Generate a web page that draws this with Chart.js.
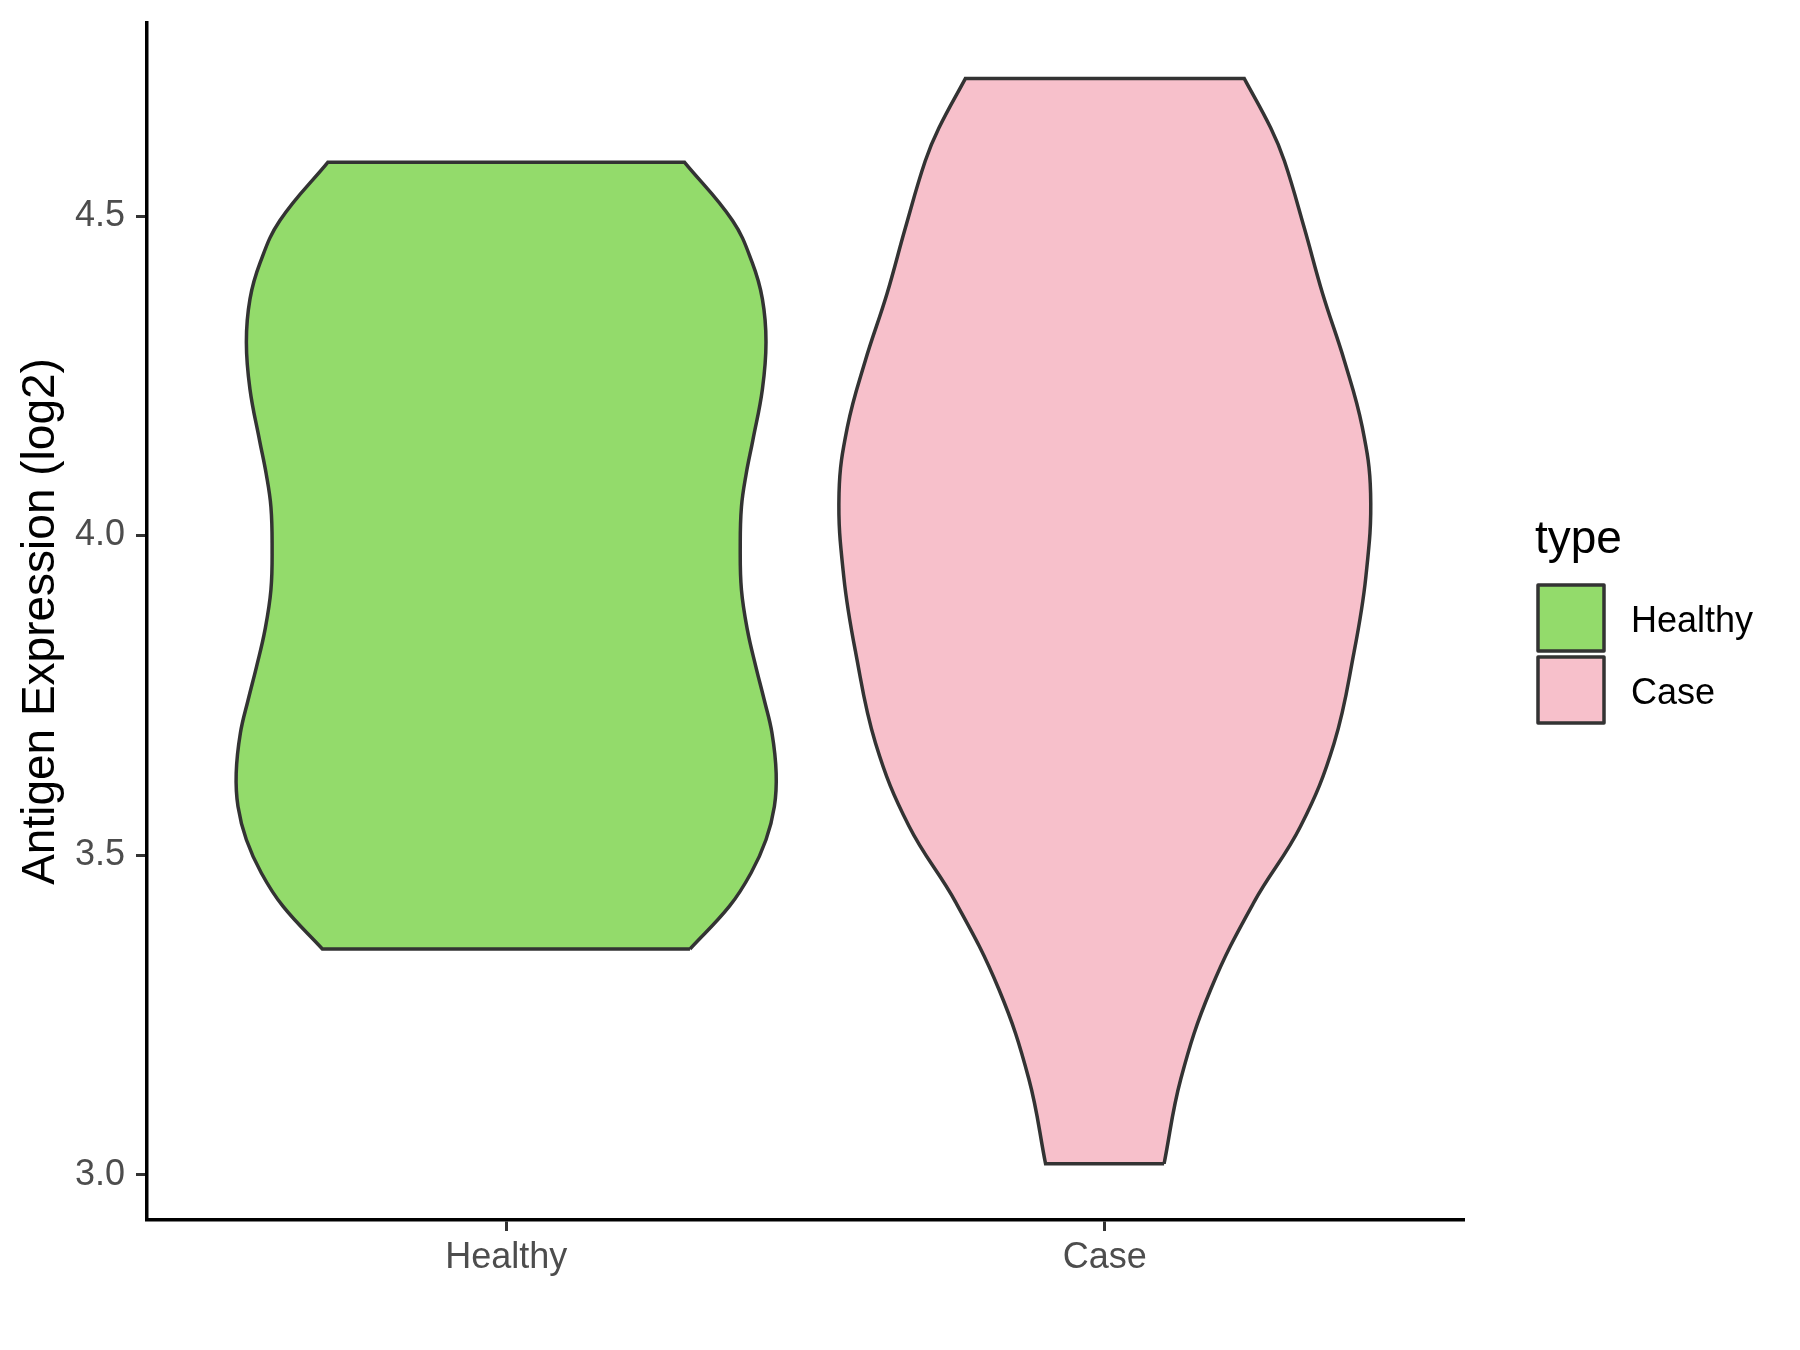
<!DOCTYPE html>
<html>
<head>
<meta charset="utf-8">
<title>Antigen Expression (log2)</title>
<script src="https://cdn.jsdelivr.net/npm/chart.js@4.4.1/dist/chart.umd.min.js"></script>
<style>
  html, body { margin: 0; padding: 0; background: #ffffff; }
  canvas { display: block; }
</style>
</head>
<body>
<canvas id="violin" width="1800" height="1350"></canvas>
<script>
var categories = ['Healthy', 'Case'];
var fills = ['#93DB6B', '#F7C0CB'];
var yTicks = [3.0, 3.5, 4.0, 4.5];

// expression level (log2) and half-width of the violin at that level, in category units
var healthyLevels = [3.353, 3.420, 3.472, 3.524, 3.576, 3.628, 3.691, 3.743, 3.795, 3.852, 3.915, 3.982, 4.045, 4.097, 4.149, 4.229, 4.303, 4.370, 4.427, 4.493, 4.584];
var healthyWidths = [0.307, 0.373, 0.409, 0.434, 0.448, 0.451, 0.444, 0.431, 0.417, 0.403, 0.393, 0.391, 0.393, 0.401, 0.412, 0.428, 0.434, 0.428, 0.411, 0.378, 0.298];
var caseLevels = [3.017, 3.150, 3.290, 3.426, 3.545, 3.675, 3.816, 3.935, 4.066, 4.170, 4.274, 4.378, 4.482, 4.586, 4.638, 4.715];
var caseWidths = [0.099, 0.127, 0.177, 0.249, 0.327, 0.383, 0.416, 0.436, 0.444, 0.430, 0.400, 0.364, 0.333, 0.300, 0.277, 0.233];

var levels = [healthyLevels, caseLevels];
var widths = [healthyWidths, caseWidths];

var FONT = '"Liberation Sans", Arial, sans-serif';

// closed outline: up the right side, across the top, down the left side, back along the bottom.
// corner points are repeated so the spline keeps them sharp
function outline(pos, lv, wd) {
    var n = lv.length;
    var pts = [];
    for (var i = 0; i < n; i++) {
        pts.push({x: pos + wd[i], y: lv[i]});
    }
    pts.push({x: pos + wd[n - 1], y: lv[n - 1]});
    pts.push({x: pos - wd[n - 1], y: lv[n - 1]});
    for (var j = n - 1; j >= 0; j--) {
        pts.push({x: pos - wd[j], y: lv[j]});
    }
    pts.push({x: pos - wd[0], y: lv[0]});
    pts.push({x: pos + wd[0], y: lv[0]});
    return pts;
}

var keyLegend = {
    id: 'keyLegend',
    afterDraw: function (chart) {
        var ctx = chart.ctx;
        ctx.save();
        ctx.fillStyle = '#000000';
        ctx.textAlign = 'left';
        ctx.textBaseline = 'alphabetic';
        ctx.font = '46px ' + FONT;
        ctx.fillText('type', 1535, 553);
        ctx.lineWidth = 3.5;
        ctx.lineJoin = 'round';
        ctx.strokeStyle = '#333333';
        ctx.font = '36px ' + FONT;
        categories.forEach(function (c, k) {
            var top = 585 + k * 72;
            ctx.fillStyle = fills[k];
            ctx.fillRect(1538, top, 66, 66);
            ctx.strokeRect(1538, top, 66, 66);
            ctx.fillStyle = '#000000';
            ctx.fillText(c, 1631, top + 47);
        });
        ctx.restore();
    }
};

var chart = new Chart(document.getElementById('violin'), {
    type: 'line',
    data: {
        datasets: categories.map(function (c, k) {
            return {
                label: c,
                data: outline(k + 1, levels[k], widths[k]),
                backgroundColor: fills[k],
                borderColor: '#333333',
                borderWidth: 3.5,
                fill: 'shape',
                tension: 0.4,
                pointRadius: 0,
                pointHoverRadius: 0
            };
        })
    },
    options: {
        responsive: false,
        animation: false,
        events: [],
        layout: {padding: {top: 23, right: 336, bottom: 0, left: 0}},
        plugins: {
            legend: {display: false},
            tooltip: {enabled: false}
        },
        scales: {
            x: {
                type: 'linear',
                min: 0.4,
                max: 2.6,
                afterBuildTicks: function (scale) {
                    scale.ticks = categories.map(function (c, k) { return {value: k + 1}; });
                },
                afterFit: function (scale) {
                    scale.height = 130;
                    scale.paddingLeft = 0;
                    scale.paddingRight = 0;
                },
                ticks: {
                    autoSkip: false,
                    maxRotation: 0,
                    padding: 5,
                    color: '#4D4D4D',
                    font: {family: FONT, size: 36},
                    callback: function (v) { return categories[Math.round(v) - 1]; }
                },
                grid: {drawOnChartArea: false, drawTicks: true, tickLength: 11, tickColor: '#333333', tickWidth: 3},
                border: {display: true, color: '#000000', width: 3.5}
            },
            y: {
                type: 'linear',
                min: 2.929,
                max: 4.802,
                afterBuildTicks: function (scale) {
                    scale.ticks = yTicks.map(function (v) { return {value: v}; });
                },
                afterFit: function (scale) {
                    scale.width = 147;
                    scale.paddingTop = 0;
                    scale.paddingBottom = 0;
                },
                ticks: {
                    padding: 11,
                    color: '#4D4D4D',
                    font: {family: FONT, size: 36},
                    callback: function (v) { return v.toFixed(1); }
                },
                title: {
                    display: true,
                    text: 'Antigen Expression (log2)',
                    color: '#000000',
                    font: {family: FONT, size: 46},
                    padding: {top: 14, bottom: 0}
                },
                grid: {drawOnChartArea: false, drawTicks: true, tickLength: 11, tickColor: '#333333', tickWidth: 3},
                border: {display: true, color: '#000000', width: 3.5}
            }
        }
    },
    plugins: [keyLegend]
});
</script>
</body>
</html>
